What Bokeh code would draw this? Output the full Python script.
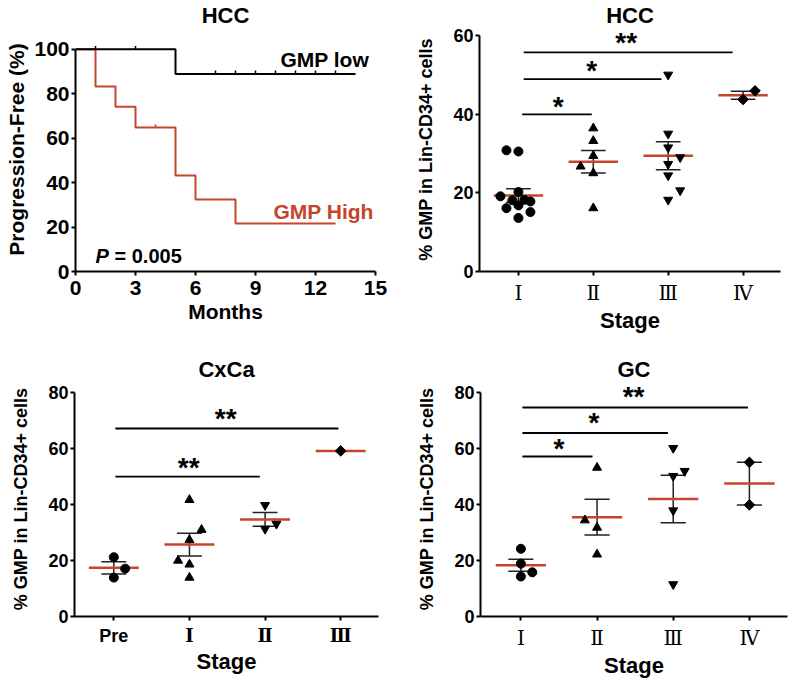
import numpy as np
from bokeh.plotting import figure
from bokeh.models import Label, FixedTicker
from bokeh.layouts import row, column
from bokeh.embed import file_html
from bokeh.resources import INLINE

RED = "#c5442b"
FONT = "Liberation Sans"
SERIF = "DejaVu Serif"

# ---------------- data ----------------
km_low_t = [0, 5, 14]
km_low_s = [100, 88.9, 88.9]
km_low_cens_t = [1, 3, 7, 8, 9, 10, 11, 12, 13]
km_low_cens_s = [100, 100, 88.9, 88.9, 88.9, 88.9, 88.9, 88.9, 88.9]
km_high_t = [0, 1, 2, 3, 5, 6, 8, 13]
km_high_s = [100, 83.3, 74.1, 64.8, 43.2, 32.4, 21.6, 21.6]
km_high_cens_t = [4]
km_high_cens_s = [64.8]
km_xticks = [0, 3, 6, 9, 12, 15]
km_yticks = [0, 20, 40, 60, 80, 100]

hcc_labels = ["Ⅰ", "Ⅱ", "Ⅲ", "Ⅳ"]
hcc_I = [30.8, 30.5, 19.1, 20.2, 18.1, 18.2, 17.8, 16.1, 16.8, 15.1, 13.6]
hcc_I_dx = [-0.16, 0, -0.24, 0, -0.08, 0.08, 0.16, -0.16, 0, 0.16, 0]
hcc_II = [36.4, 33.2, 29.4, 26.7, 25.0, 16.1]
hcc_II_dx = [0, 0, 0, -0.17, 0, 0]
hcc_III = [50.0, 35.0, 31.5, 29.0, 27.3, 24.4, 20.6, 18.2]
hcc_III_dx = [0, 0, 0, 0.16, 0, 0, 0.16, 0]
hcc_IV = [43.7, 45.9]
hcc_IV_dx = [0, 0.16]
hcc_mean = [19.3, 27.9, 29.4, 44.8]
hcc_sem = [1.7, 2.85, 3.55, 1.0]
hcc_sig_x0 = [1.05, 1.07, 1.07]
hcc_sig_x1 = [1.98, 2.91, 3.86]
hcc_sig_y = [39.9, 48.9, 55.7]
hcc_sig_text = ["*", "*", "**"]
hcc_sig_tx = [1.53, 1.98, 2.44]
hcc_sig_ty = [42.4, 51.6, 58.8]

cx_labels = ["Pre", "Ⅰ", "Ⅱ", "Ⅲ"]
cx_Pre = [21.2, 17.1, 13.9]
cx_Pre_dx = [0, 0.15, 0]
cx_I = [41.7, 31.0, 27.4, 20.0, 18.6, 13.9]
cx_I_dx = [0, 0.16, 0, -0.15, 0, 0]
cx_II = [39.8, 33.1, 31.3]
cx_II_dx = [0, 0.15, 0]
cx_III = [59.2]
cx_III_dx = [0]
cx_mean = [17.4, 25.7, 34.7, 59.2]
cx_sem = [2.2, 4.1, 2.45, 0]
cx_sig_x0 = [1.02, 1.02]
cx_sig_x1 = [2.93, 3.97]
cx_sig_y = [50.0, 67.2]
cx_sig_text = ["**", "**"]
cx_sig_tx = [1.99, 2.48]
cx_sig_ty = [53.9, 71.6]

gc_labels = ["Ⅰ", "Ⅱ", "Ⅲ", "Ⅳ"]
gc_I = [24.2, 18.9, 15.8, 14.3]
gc_I_dx = [0, 0, 0.15, 0]
gc_II = [53.2, 34.4, 31.8, 22.2]
gc_II_dx = [0, -0.16, 0, 0]
gc_III = [60.2, 52.0, 50.2, 37.9, 11.5]
gc_III_dx = [0, 0.15, 0, 0, 0]
gc_IV = [55.1, 39.9]
gc_IV_dx = [0, 0]
gc_mean = [18.3, 35.5, 42.0, 47.5]
gc_sem = [2.15, 6.4, 8.5, 7.6]
gc_sig_x0 = [1.02, 1.02, 1.02]
gc_sig_x1 = [1.94, 2.93, 3.98]
gc_sig_y = [57.2, 65.6, 74.7]
gc_sig_text = ["*", "*", "**"]
gc_sig_tx = [1.5, 1.96, 2.48]
gc_sig_ty = [60.7, 70.1, 79.2]

MARKERS = ["circle", "triangle", "inverted_triangle", "diamond"]


def base_fig(w, h, l, r, t, b, xr, yr, title, tstand):
    p = figure(width=w, height=h, x_range=xr, y_range=yr, output_backend="svg",
               toolbar_location=None, min_border_left=l, min_border_right=r,
               min_border_top=t, min_border_bottom=b, title=title)
    p.xgrid.visible = False
    p.ygrid.visible = False
    p.outline_line_color = None
    p.title.align = "center"
    p.title.text_font = FONT
    p.title.text_font_style = "bold"
    p.title.text_font_size = "22px"
    p.title.text_color = "black"
    p.title.standoff = tstand
    for ax in (p.xaxis[0], p.yaxis[0]):
        ax.axis_line_width = 2
        ax.axis_line_color = "black"
        ax.major_tick_line_width = 2
        ax.major_tick_line_color = "black"
        ax.major_tick_in = 0
        ax.major_tick_out = 4
        ax.minor_tick_in = 0
        ax.minor_tick_out = 0
        ax.major_label_text_font = FONT
        ax.major_label_text_font_style = "bold"
        ax.major_label_text_color = "black"
        ax.major_label_text_line_height = 1.0
        ax.axis_label_text_font = FONT
        ax.axis_label_text_font_style = "bold"
        ax.axis_label_text_color = "black"
        ax.axis_label_text_line_height = 1.0
    return p


def add_text(p, x, y, text, size, color="black", align="center", style="bold", yoff=0):
    p.add_layout(Label(x=x, y=y, text=text, text_align=align, text_baseline="alphabetic",
                       text_font=FONT, text_font_style=style, text_font_size=size,
                       text_color=color, y_offset=yoff))


def scatter_panel(p, groups, dxs, means, sems, sig, labels, ymax, ystep):
    n = len(groups)
    cats = np.arange(1, n + 1)
    means = np.array(means, dtype=float)
    sems = np.array(sems, dtype=float)
    has = sems > 0
    c = cats[has]
    m = means[has]
    s = sems[has]
    p.segment(c, m - s, c, m + s, line_color="#222222", line_width=1.5)
    p.segment(c - 0.165, m + s, c + 0.165, m + s, line_color="#222222", line_width=1.5)
    p.segment(c - 0.165, m - s, c + 0.165, m - s, line_color="#222222", line_width=1.5)
    p.segment(cats - 0.33, means, cats + 0.33, means, line_color=RED, line_width=2.5)
    for i, (vals, dx) in enumerate(zip(groups, dxs)):
        xs = [i + 1 + d for d in dx]
        mk = MARKERS[i]
        if mk == "diamond":
            p.scatter(xs, vals, marker="square", angle=np.pi / 4, size=7.5, color="black")
        else:
            p.scatter(xs, vals, marker=mk, size=9, color="black")
    x0, x1, y, txt, tx, ty = sig
    p.segment(x0, y, x1, y, line_color="black", line_width=1.8)
    for a, b, t in zip(tx, ty, txt):
        add_text(p, a, b, t, "28px", yoff=-2)
    p.xaxis.ticker = FixedTicker(ticks=list(range(1, n + 1)))
    p.xaxis.major_label_overrides = {i + 1: lab for i, lab in enumerate(labels)}
    p.yaxis.ticker = FixedTicker(ticks=list(range(0, ymax + 1, ystep)))
    p.yaxis.bounds = (0, ymax)
    p.xaxis.axis_label = "Stage"
    p.yaxis.axis_label = "% GMP in Lin-CD34+ cells"
    p.xaxis.axis_label_text_font_size = "22px"
    p.yaxis.axis_label_text_font_size = "18px"
    p.yaxis.major_label_text_font_size = "18px"
    p.xaxis.major_label_text_font_size = "20px"
    p.yaxis.major_label_standoff = 2
    p.yaxis.axis_label_standoff = 14
    p.xaxis.major_label_standoff = 5
    p.xaxis.axis_label_standoff = 0


# row 1: height 335, frames 25 -> 272
p1 = base_fig(395, 335, 75, 20, 25, 63, (0, 15), (0, 109.8), "HCC", 0)
p1.step(km_high_t, km_high_s, mode="after", line_color=RED, line_width=2)
p1.step(km_low_t, km_low_s, mode="after", line_color="black", line_width=2)
p1.segment(km_low_cens_t, km_low_cens_s, km_low_cens_t, [v + 1.5 for v in km_low_cens_s],
           line_color="black", line_width=1.5)
p1.segment(km_high_cens_t, km_high_cens_s, km_high_cens_t, [v + 1.5 for v in km_high_cens_s],
           line_color=RED, line_width=1.5)
p1.xaxis.ticker = FixedTicker(ticks=km_xticks)
p1.yaxis.ticker = FixedTicker(ticks=km_yticks)
p1.yaxis.bounds = (0, 100)
p1.xaxis.axis_label = "Months"
p1.yaxis.axis_label = "Progression-Free (%)"
for ax in (p1.xaxis[0], p1.yaxis[0]):
    ax.major_label_text_font_size = "21px"
    ax.axis_label_text_font_size = "21px"
p1.xaxis.major_label_standoff = 5
p1.xaxis.axis_label_standoff = 2
p1.yaxis.major_label_standoff = 2
p1.yaxis.axis_label_standoff = 3
add_text(p1, 10.25, 95.4, "GMP low", "21px", align="left")
add_text(p1, 9.9, 27.1, "GMP High", "21px", color=RED, align="left")
add_text(p1, 1.0, 7.1, "P", "20px", align="left", style="bold italic")
add_text(p1, 1.95, 7.1, "= 0.005", "20px", align="left")

p2 = base_fig(393, 335, 84, 8, 25, 63, (0.48, 4.5), (0, 62), "HCC", 0)
scatter_panel(p2, [hcc_I, hcc_II, hcc_III, hcc_IV], [hcc_I_dx, hcc_II_dx, hcc_III_dx, hcc_IV_dx],
              hcc_mean, hcc_sem,
              (hcc_sig_x0, hcc_sig_x1, hcc_sig_y, hcc_sig_text, hcc_sig_tx, hcc_sig_ty),
              hcc_labels, 60, 20)
p2.xaxis.major_label_text_font = SERIF
p2.xaxis.major_label_text_font_style = "normal"

# row 2: height 345 (335 -> 680), frames 381 -> 617
p3 = base_fig(395, 345, 74, 17, 46, 63, (0.48, 4.5), (0, 84), "CxCa", 0)
scatter_panel(p3, [cx_Pre, cx_I, cx_II, cx_III], [cx_Pre_dx, cx_I_dx, cx_II_dx, cx_III_dx],
              cx_mean, cx_sem,
              (cx_sig_x0, cx_sig_x1, cx_sig_y, cx_sig_text, cx_sig_tx, cx_sig_ty),
              cx_labels, 80, 20)
p3.xaxis.major_label_text_font = "Liberation Sans, DejaVu Serif"
p3.xaxis.major_label_text_font_size = "18px"

p4 = base_fig(393, 345, 85, 1, 46, 63, (0.47, 4.5), (0, 84), "GC", 0)
scatter_panel(p4, [gc_I, gc_II, gc_III, gc_IV], [gc_I_dx, gc_II_dx, gc_III_dx, gc_IV_dx],
              gc_mean, gc_sem,
              (gc_sig_x0, gc_sig_x1, gc_sig_y, gc_sig_text, gc_sig_tx, gc_sig_ty),
              gc_labels, 80, 20)
p4.xaxis.major_label_text_font = SERIF
p4.xaxis.major_label_text_font_style = "normal"

layout = column(row(p1, p2), row(p3, p4))
open("out.html", "w").write(file_html(layout, INLINE))
